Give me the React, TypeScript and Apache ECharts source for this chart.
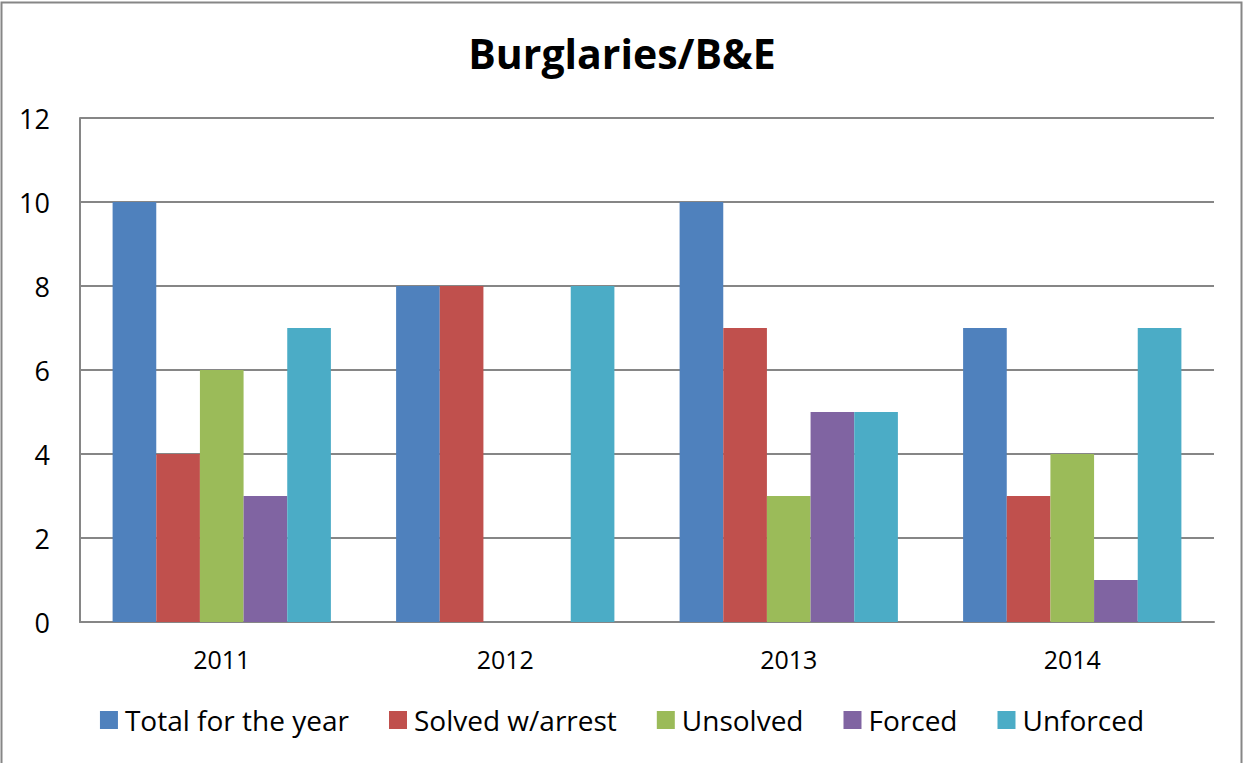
import React, { useEffect, useRef } from "react";
import * as echarts from "echarts";

const categories = ["2011", "2012", "2013", "2014"];
const seriesNames = ["Total for the year", "Solved w/arrest", "Unsolved", "Forced", "Unforced"];
const totalForYear = [10, 8, 10, 7];
const solvedWithArrest = [4, 8, 7, 3];
const unsolved = [6, 0, 3, 4];
const forced = [3, 0, 5, 1];
const unforced = [7, 8, 5, 7];
const colors = ["#4F81BD", "#C0504D", "#9BBB59", "#8064A2", "#4BACC6"];

const FONT = "'Open Sans', 'Noto Sans', sans-serif";

export default function App() {
  const ref = useRef<HTMLDivElement>(null);
  useEffect(() => {
    if (!ref.current) return;
    const chart = echarts.init(ref.current, null, { renderer: "svg" });
    const values = [totalForYear, solvedWithArrest, unsolved, forced, unforced];
    chart.setOption({
      animation: false,
      backgroundColor: "#fff",
      title: {
        text: "Burglaries/B&E",
        left: "center",
        top: 27,
        textStyle: { fontFamily: FONT, fontSize: 41, fontWeight: "bold", color: "#000" },
      },
      graphic: [
        {
          type: "rect",
          shape: { x: 1.5, y: 2.5, width: 1240, height: 770 },
          style: { fill: "none", stroke: "#868686", lineWidth: 2 },
          silent: true,
        },
      ],
      legend: {
        top: 701,
        left: "center",
        itemWidth: 18,
        itemHeight: 18,
        itemGap: 40,
        icon: "rect",
        textStyle: { fontFamily: FONT, fontSize: 28, color: "#000", padding: [0, 0, 0, 2] },
        data: seriesNames,
      },
      grid: { left: 80, top: 118, width: 1134, height: 504, containLabel: false },
      xAxis: {
        type: "category",
        data: categories,
        axisLine: { lineStyle: { color: "#868686", width: 2 } },
        axisTick: { show: false },
        axisLabel: { fontFamily: FONT, fontSize: 25, color: "#000", margin: 24 },
      },
      yAxis: {
        type: "value",
        min: 0,
        max: 12,
        interval: 2,
        axisLine: { show: true, lineStyle: { color: "#868686", width: 2 } },
        axisTick: { show: false },
        splitLine: { lineStyle: { color: "#868686", width: 2 } },
        axisLabel: { fontFamily: FONT, fontSize: 27, color: "#000", margin: 30 },
      },
      series: seriesNames.map((name, i) => ({
        name,
        type: "bar",
        data: values[i],
        barGap: "0%",
        barCategoryGap: "23%",
        itemStyle: { color: colors[i] },
      })),
    });
    return () => chart.dispose();
  }, []);
  return (
    <div
      ref={ref}
      style={{ position: "fixed", left: 0, top: 0, width: 1244, height: 763 }}
    />
  );
}
